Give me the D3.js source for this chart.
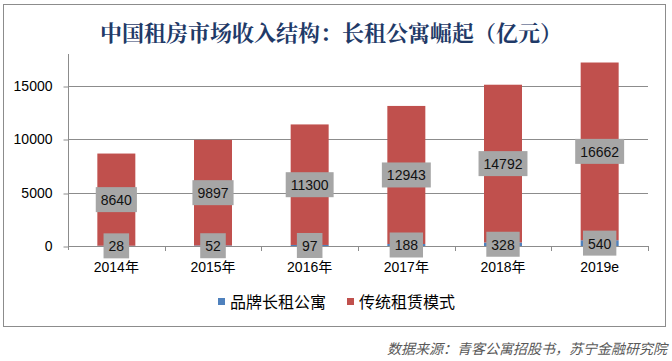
<!DOCTYPE html>
<html lang="zh">
<head>
<meta charset="UTF-8">
<title>中国租房市场收入结构</title>
<script src="https://d3js.org/d3.v7.min.js"></script>
<style>
    body { margin: 0; padding: 0; background: #fff; }
    svg text { font-family: "Liberation Sans", Arial, "Noto Sans CJK SC", sans-serif; }
    .cjk { font-family: "Noto Sans CJK SC", sans-serif; }
</style>
</head>
<body>
<div id="chart"></div>
<script>
    const years = ["2014年", "2015年", "2016年", "2017年", "2018年", "2019e"];
    const brandApt = [28, 52, 97, 188, 328, 540];
    const traditional = [8640, 9897, 11300, 12943, 14792, 16662];
    const seriesNames = ["品牌长租公寓", "传统租赁模式"];
    const yTicks = [0, 5000, 10000, 15000];

    const W = 672, H = 361;
    const colors = ["#4f81bd", "#c0504d"];

    const svg = d3.select("#chart").append("svg").attr("width", W).attr("height", H);

    // outer frame
    svg.append("rect")
        .attr("x", 3.5).attr("y", 4.5).attr("width", 662).attr("height", 322)
        .attr("fill", "#fff").attr("stroke", "#8c8c8c").attr("stroke-width", 1);

    svg.append("text")
        .attr("x", 331).attr("y", 31)
        .attr("text-anchor", "middle").attr("dominant-baseline", "central")
        .attr("class", "cjk")
        .style("font-family", "'Noto Serif CJK SC', 'Noto Sans CJK SC', serif")
        .attr("font-size", 22).attr("font-weight", "bold").attr("fill", "#1f3a68")
        .text("中国租房市场收入结构：长租公寓崛起（亿元）");

    const plotL = 68, plotR = 648, plotT = 54, plotB = 246;

    const x = d3.scaleBand().domain(years).range([plotL, plotR])
        .paddingInner(0.607).paddingOuter(0.3035);
    const xSlot = d3.scaleBand().domain(years).range([plotL, plotR]);
    const y = d3.scaleLinear().domain([0, 18000]).range([plotB, plotT]);

    // gridlines
    svg.append("g").selectAll("line").data(yTicks.filter(d => d > 0)).join("line")
        .attr("x1", plotL).attr("x2", plotR)
        .attr("y1", d => Math.round(y(d)) + 0.5).attr("y2", d => Math.round(y(d)) + 0.5)
        .attr("stroke", "#8c8c8c");

    // y axis
    const yAxis = svg.append("g").attr("transform", `translate(${plotL + 0.5},0)`)
        .call(d3.axisLeft(y).tickValues(yTicks).tickSize(5).tickPadding(11).tickFormat(d3.format("d")));
    yAxis.select(".domain").attr("stroke", "#8c8c8c").attr("d", `M0,${plotT}V${plotB + 4}`);
    yAxis.selectAll(".tick line").attr("stroke", "#8c8c8c")
        .attr("transform", function(d) { return `translate(0,${Math.round(y(d)) + 0.5 - y(d)})`; });
    yAxis.selectAll(".tick text").attr("font-size", 14).attr("fill", "#000")
        .style("font-family", "'Liberation Sans', Arial, sans-serif");

    // stacked bars
    const stackData = years.map((c, i) => ({ year: c, brand: brandApt[i], trad: traditional[i] }));
    const stacked = d3.stack().keys(["brand", "trad"])(stackData);

    const layers = svg.append("g").selectAll("g").data(stacked).join("g")
        .attr("fill", (d, i) => colors[i]);
    layers.selectAll("rect").data(d => d).join("rect")
        .attr("x", d => x(d.data.year))
        .attr("width", x.bandwidth())
        .attr("y", d => y(d[1]))
        .attr("height", d => y(d[0]) - y(d[1]));

    // x axis line and ticks
    svg.append("line")
        .attr("x1", plotL).attr("x2", plotR)
        .attr("y1", plotB + 0.5).attr("y2", plotB + 0.5)
        .attr("stroke", "#8c8c8c");
    const bounds = years.map(c => xSlot(c)).slice(1).concat([plotR]);
    svg.append("g").selectAll("line").data(bounds).join("line")
        .attr("x1", d => Math.round(d) + 0.5).attr("x2", d => Math.round(d) + 0.5)
        .attr("y1", plotB).attr("y2", plotB + 5)
        .attr("stroke", "#8c8c8c");

    svg.append("g").selectAll("text").data(years).join("text")
        .attr("x", d => x(d) + x.bandwidth() / 2)
        .attr("y", 267)
        .attr("text-anchor", "middle").attr("dominant-baseline", "central")
        .attr("font-size", 14).attr("fill", "#000")
        .text(d => d);

    // data labels with grey boxes
    stacked.forEach(layer => {
        layer.forEach(d => {
            const cx = x(d.data.year) + x.bandwidth() / 2;
            const cy = y((d[0] + d[1]) / 2);
            const g = svg.append("g");
            const box = g.append("rect").attr("fill", "#a6a6a6");
            const t = g.append("text")
                .attr("x", cx).attr("y", cy + 0.5)
                .attr("text-anchor", "middle").attr("dominant-baseline", "central")
                .attr("font-size", 14).attr("fill", "#111")
                .text(d[1] - d[0]);
            const w = t.node().getComputedTextLength() + 10;
            box.attr("x", cx - w / 2).attr("y", cy - 12.5).attr("width", w).attr("height", 25);
        });
    });

    // legend
    const legendItems = [{ x: 218, tx: 230 }, { x: 347, tx: 359 }];
    legendItems.forEach((it, i) => {
        svg.append("rect").attr("x", it.x).attr("y", 298).attr("width", 7).attr("height", 7)
            .attr("fill", colors[i]);
        svg.append("text").attr("class", "cjk")
            .attr("x", it.tx).attr("y", 301)
            .attr("dominant-baseline", "central")
            .attr("font-size", 16).attr("fill", "#000")
            .text(seriesNames[i]);
    });

    // source note
    svg.append("text").attr("class", "cjk")
        .attr("x", 667).attr("y", 348)
        .attr("text-anchor", "end").attr("dominant-baseline", "central")
        .attr("font-size", 14).attr("font-style", "italic").attr("fill", "#595959")
        .text("数据来源：青客公寓招股书，苏宁金融研究院");
</script>
</body>
</html>
